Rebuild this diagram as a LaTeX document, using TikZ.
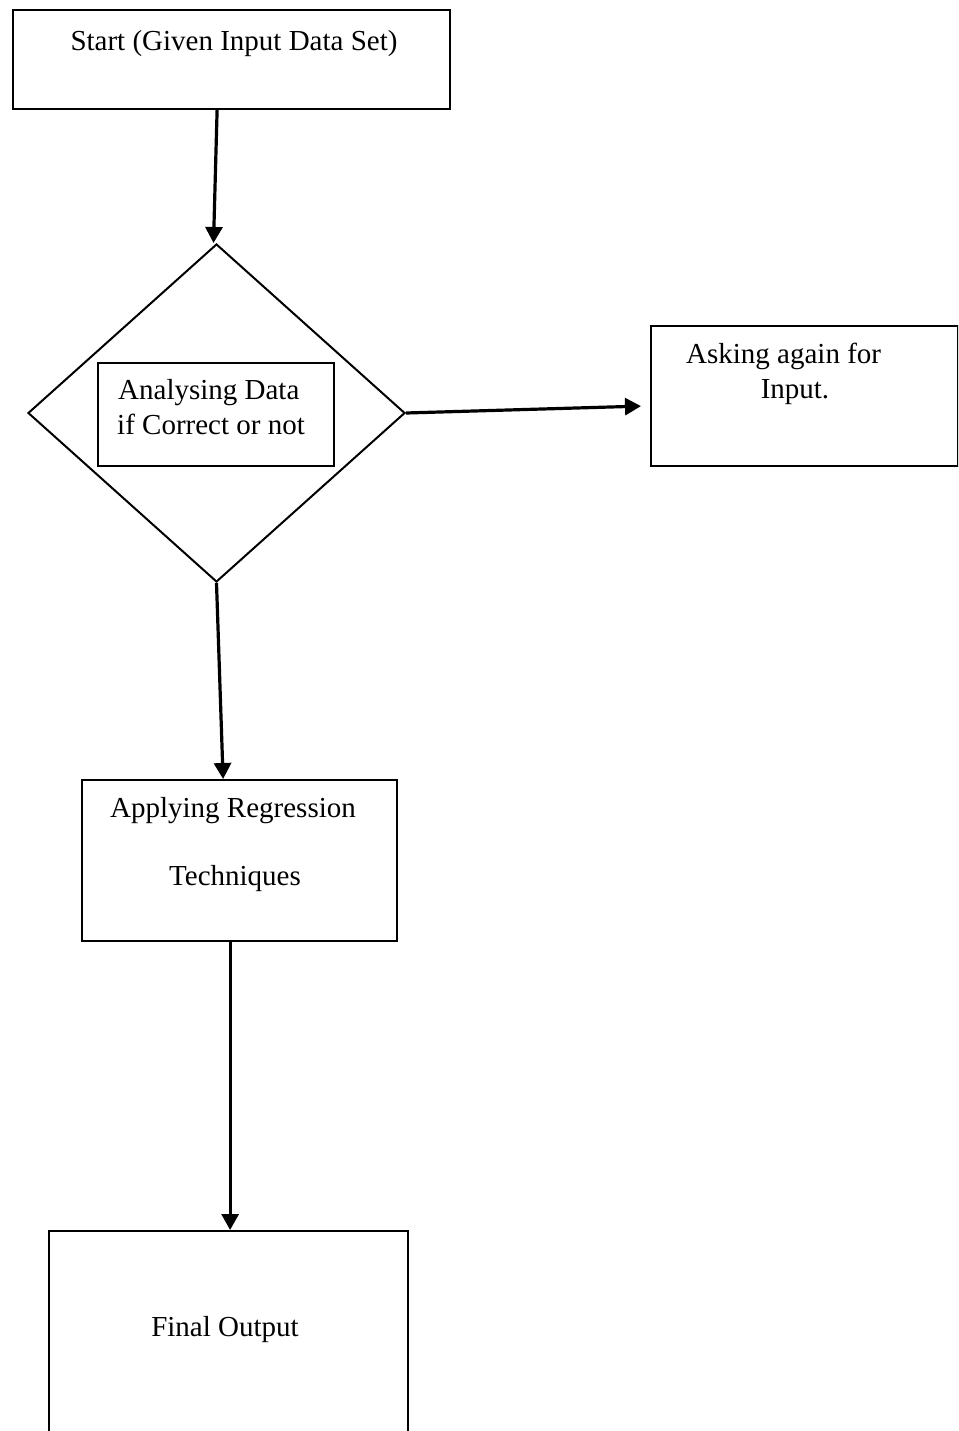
\documentclass[tikz,border=0pt]{standalone}
\usepackage{fontspec}
\setmainfont{Liberation Serif}
\usetikzlibrary{shapes.geometric,arrows.meta}
\begin{document}
\begin{tikzpicture}[x=1pt,y=-1pt,
  boxnode/.style={draw=black,line width=2.2pt,rectangle,inner sep=0pt,anchor=north west},
  txt/.style={font=\fontsize{29}{34}\selectfont,inner sep=0pt,anchor=base},
  conn/.style={line width=3.2pt,-{Triangle[length=16pt,width=17pt]}}]
\useasboundingbox (0,0) rectangle (958,1431);
\clip (0,0) rectangle (958,1431);
% start box
\node[boxnode,minimum width=437pt,minimum height=99pt] (start) at (12,9) {};
\node[txt] (starttxt) at (234,51) {Start (Given Input Data Set)};
% decision diamond
\node[draw=black,line width=2pt,diamond,inner sep=0pt,minimum width=377pt,minimum height=338pt] (dec) at (216.5,413) {};
\node[boxnode,minimum width=236pt,minimum height=103pt] (inner) at (97,362) {};
\node[txt,anchor=base west] (dectxt1) at (118,399) {Analysing Data};
\node[txt,anchor=base west] (dectxt2) at (117,434) {if Correct or not};
% asking box
\node[boxnode,minimum width=307pt,minimum height=140pt] (ask) at (650,325) {};
\node[txt,anchor=base west] (asktxt1) at (686,363) {Asking again for};
\node[txt] (asktxt2) at (795,398) {Input.};
% applying box
\node[boxnode,minimum width=315pt,minimum height=161pt] (apply) at (81,779) {};
\node[txt] (applytxt1) at (233,817) {Applying Regression};
\node[txt] (applytxt2) at (235,885) {Techniques};
% final box
\node[boxnode,minimum width=359pt,minimum height=230pt] (final) at (48,1230) {};
\node[txt] (finaltxt) at (225,1336) {Final Output};
% connectors
\draw[conn] ([xshift=-14.5pt]start.south) -- ([xshift=-3pt]dec.north);
\draw[conn] (dec.east) -- ([xshift=-9pt,yshift=-10pt]ask.west);
\draw[conn] (dec.south) -- ([xshift=-16.5pt]apply.north);
\draw[conn] ([xshift=-9.5pt]apply.south) -- ([xshift=1.5pt]final.north);
\end{tikzpicture}
\end{document}
